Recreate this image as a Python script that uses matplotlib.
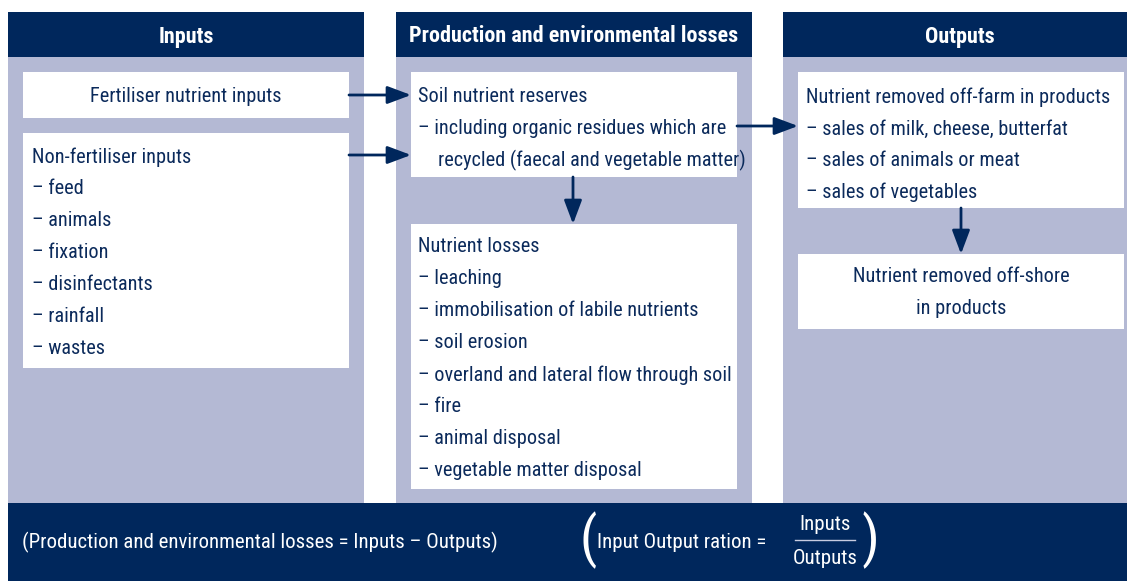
import matplotlib
matplotlib.use('Agg')
import matplotlib.pyplot as plt
from matplotlib.patches import Rectangle

plt.rcParams['font.family'] = ['DejaVu Sans Condensed', 'Roboto Condensed',
                               'Liberation Sans Narrow', 'Roboto', 'DejaVu Sans']
plt.rcParams['font.stretch'] = 'condensed'

# Diagram content
headers = ['Inputs', 'Production and environmental losses', 'Outputs']
fert_title = 'Fertiliser nutrient inputs'
nonfert_title = 'Non-fertiliser inputs'
nonfert_items = ['feed', 'animals', 'fixation', 'disinfectants', 'rainfall', 'wastes']
soil_title = 'Soil nutrient reserves'
soil_lines = ['– including organic residues which are', 'recycled (faecal and vegetable matter)']
loss_title = 'Nutrient losses'
loss_items = ['leaching', 'immobilisation of labile nutrients', 'soil erosion',
              'overland and lateral flow through soil', 'fire', 'animal disposal',
              'vegetable matter disposal']
offfarm_title = 'Nutrient removed off-farm in products'
offfarm_items = ['sales of milk, cheese, butterfat', 'sales of animals or meat',
                 'sales of vegetables']
offshore_title = 'Nutrient removed off-shore\nin products'
balance_text = '(Production and environmental losses = Inputs – Outputs)'
ratio_text = 'Input Output ration ='
ratio_num = 'Inputs'
ratio_den = 'Outputs'

NAVY = '#00275C'
LIGHT = '#B4B9D4'
TXT = '#0B2A5B'
LINE = 32

fig = plt.figure(figsize=(11.27, 5.81), dpi=100)
ax = fig.add_axes([0, 0, 1, 1])
ax.set_xlim(0, 1127)
ax.set_ylim(581, 0)
ax.axis('off')
renderer = fig.canvas.get_renderer()


def fit_size(s, target_px, weight='normal'):
    # pick a font size so that the string is about target_px wide
    t = ax.text(0, 0, s, fontsize=14, fontweight=weight)
    w = t.get_window_extent(renderer).width
    t.remove()
    return 14 * target_px / w


FS = (fit_size(fert_title, 196) + fit_size(soil_lines[0], 295)
      + fit_size(offfarm_title, 312)) / 3
HFS = fit_size(headers[1], 330, 'bold')
BFS = fit_size(balance_text, 478)


def rect(x0, y0, x1, y1, color):
    ax.add_patch(Rectangle((x0, y0), x1 - x0, y1 - y0, facecolor=color, edgecolor='none'))


def arrow(x0, y0, x1, y1):
    ax.annotate('', xy=(x1, y1), xytext=(x0, y0),
                arrowprops=dict(arrowstyle='-|>,head_length=0.8,head_width=0.3',
                                color=NAVY, lw=2, shrinkA=0, shrinkB=0,
                                mutation_scale=18))


def txt(x, y, s, ha='left', **kw):
    kw.setdefault('fontsize', FS)
    kw.setdefault('color', TXT)
    kw.setdefault('va', 'center_baseline')
    ax.text(x, y, s, ha=ha, **kw)


# columns
cols = [(8, 364), (396, 752), (783, 1127)]
head_x = [186, 574, 960]
for (x0, x1), hx, h in zip(cols, head_x, headers):
    rect(x0, 57, x1, 503, LIGHT)
    rect(x0, 12, x1, 57, NAVY)
    txt(hx, 34, h, ha='center', color='white', fontsize=HFS, fontweight='bold')

# white boxes
rect(23, 72, 349, 118, 'white')
rect(23, 133, 349, 368, 'white')
rect(411, 72, 737, 177, 'white')
rect(411, 224, 737, 489, 'white')
rect(798, 72, 1124, 208, 'white')
rect(798, 254, 1124, 329, 'white')

# Inputs column
txt(186, 95, fert_title, ha='center')
txt(32, 155, nonfert_title)
for i, item in enumerate(nonfert_items):
    txt(32, 186 + i * LINE, '– ' + item)

# Production column
txt(418, 95, soil_title)
txt(418, 127, soil_lines[0])
txt(438, 158, soil_lines[1])
txt(418, 245, loss_title)
for i, item in enumerate(loss_items):
    txt(418, 277 + i * LINE, '– ' + item)

# Outputs column
txt(806, 95, offfarm_title)
for i, item in enumerate(offfarm_items):
    txt(806, 127 + i * 31.5, '– ' + item)
txt(961, 275, offshore_title.split('\n')[0], ha='center')
txt(961, 307, offshore_title.split('\n')[1], ha='center')

# arrows
arrow(349, 95, 411, 95)
arrow(349, 155, 411, 155)
arrow(737, 126, 798, 126)
arrow(573, 177, 573, 224)
arrow(961, 208, 961, 254)

# bottom band
rect(8, 503, 1127, 581, NAVY)
txt(22, 540, balance_text, color='white', fontsize=BFS)
txt(588, 540, '(', ha='center', color='white', fontsize=40, va='center')
txt(870, 540, ')', ha='center', color='white', fontsize=40, va='center')
txt(597, 540, ratio_text, color='white', fontsize=BFS)
txt(825, 523, ratio_num, ha='center', color='white', fontsize=BFS)
ax.plot([795, 855], [540, 540], color='#C8CCE0', lw=1)
txt(825, 557, ratio_den, ha='center', color='white', fontsize=BFS)

fig.savefig('out.png', dpi=100)
